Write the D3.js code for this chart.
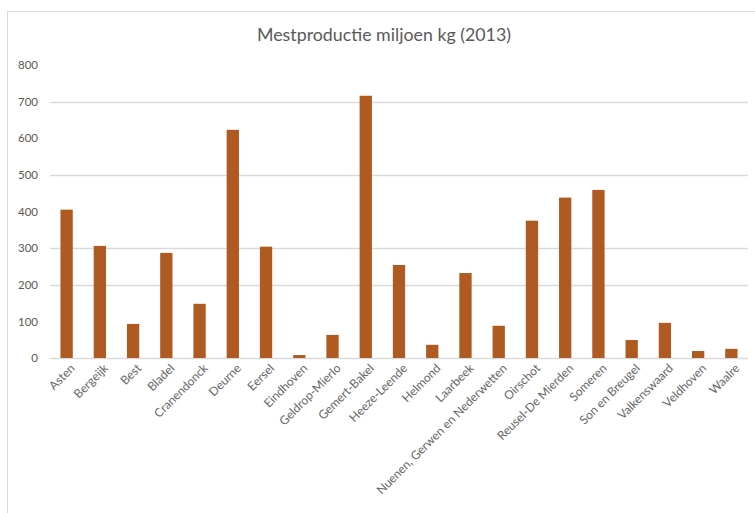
<!DOCTYPE html>
<meta charset="utf-8">
<script src="https://d3js.org/d3.v7.min.js"></script>
<style>
  body { margin: 0; background: #fff; }
  text { font-family: Lato, "Open Sans", sans-serif; fill: #595959; }
</style>
<div id="my_dataviz"></div>
<script>
// data
var gemeenten = ["Asten", "Bergeijk", "Best", "Bladel", "Cranendonck", "Deurne", "Eersel",
  "Eindhoven", "Geldrop-Mierlo", "Gemert-Bakel", "Heeze-Leende", "Helmond", "Laarbeek",
  "Nuenen, Gerwen en Nederwetten", "Oirschot", "Reusel-De Mierden", "Someren",
  "Son en Breugel", "Valkenswaard", "Veldhoven", "Waalre"];
var mest = [405, 306, 93, 287, 148, 623, 304, 8, 63, 716, 254, 36, 232, 88, 375, 438, 459, 49, 96, 19, 25];
var yTicks = [0, 100, 200, 300, 400, 500, 600, 700, 800];
// only these gridlines show in the original picture
var gridVals = [0, 200, 300, 500, 700];

var W = 755, H = 513;
var margin = {top: 65, right: 7, bottom: 155, left: 50};

var svg = d3.select("#my_dataviz")
  .append("svg")
    .attr("width", W)
    .attr("height", H);

// chart frame
svg.append("rect")
  .attr("x", 7.5).attr("y", 11.5)
  .attr("width", W + 20).attr("height", H + 20)
  .attr("fill", "none")
  .attr("stroke", "#d9d9d9");

// title
svg.append("text")
  .attr("x", 384).attr("y", 41)
  .attr("text-anchor", "middle")
  .style("font-size", "17.8px")
  .text("Mestproductie miljoen kg (2013)");

var x = d3.scaleBand()
  .domain(gemeenten)
  .range([margin.left, W - margin.right])
  .paddingInner(0.63)
  .paddingOuter(0.315);

var y = d3.scaleLinear()
  .domain([0, 800])
  .range([358, 65]);

// gridlines
svg.append("g")
  .selectAll("line")
  .data(gridVals)
  .enter()
  .append("line")
    .attr("x1", margin.left)
    .attr("x2", W - margin.right)
    .attr("y1", function (d) { return Math.round(y(d)) + 0.5; })
    .attr("y2", function (d) { return Math.round(y(d)) + 0.5; })
    .attr("stroke", "#d9d9d9")
    .attr("stroke-width", 1.3);

// y axis labels
var yAxis = svg.append("g")
  .attr("transform", "translate(" + margin.left + ",0)")
  .call(d3.axisLeft(y).tickValues(yTicks).tickSize(0).tickPadding(12));
yAxis.select(".domain").remove();
yAxis.selectAll("text")
  .style("font-size", "11.5px")
  .style("font-family", "Lato, sans-serif")
  .attr("fill", "#666");

// bars
svg.append("g")
  .selectAll("rect")
  .data(mest)
  .enter()
  .append("rect")
    .attr("x", function (d, i) { return x(gemeenten[i]); })
    .attr("y", function (d) { return y(d); })
    .attr("width", x.bandwidth())
    .attr("height", function (d) { return y(0) - y(d); })
    .style("fill", "#ae5a21");

// x labels, rotated
svg.append("g")
  .selectAll("text")
  .data(gemeenten)
  .enter()
  .append("text")
    .attr("transform", function (d) {
      return "translate(" + (x(d) + x.bandwidth() / 2 + 6) + "," + 366 + ") rotate(-45)";
    })
    .attr("text-anchor", "end")
    .attr("dy", "0.35em")
    .style("font-size", "12px")
    .style("fill", "#666")
    .text(function (d) { return d; });
</script>
